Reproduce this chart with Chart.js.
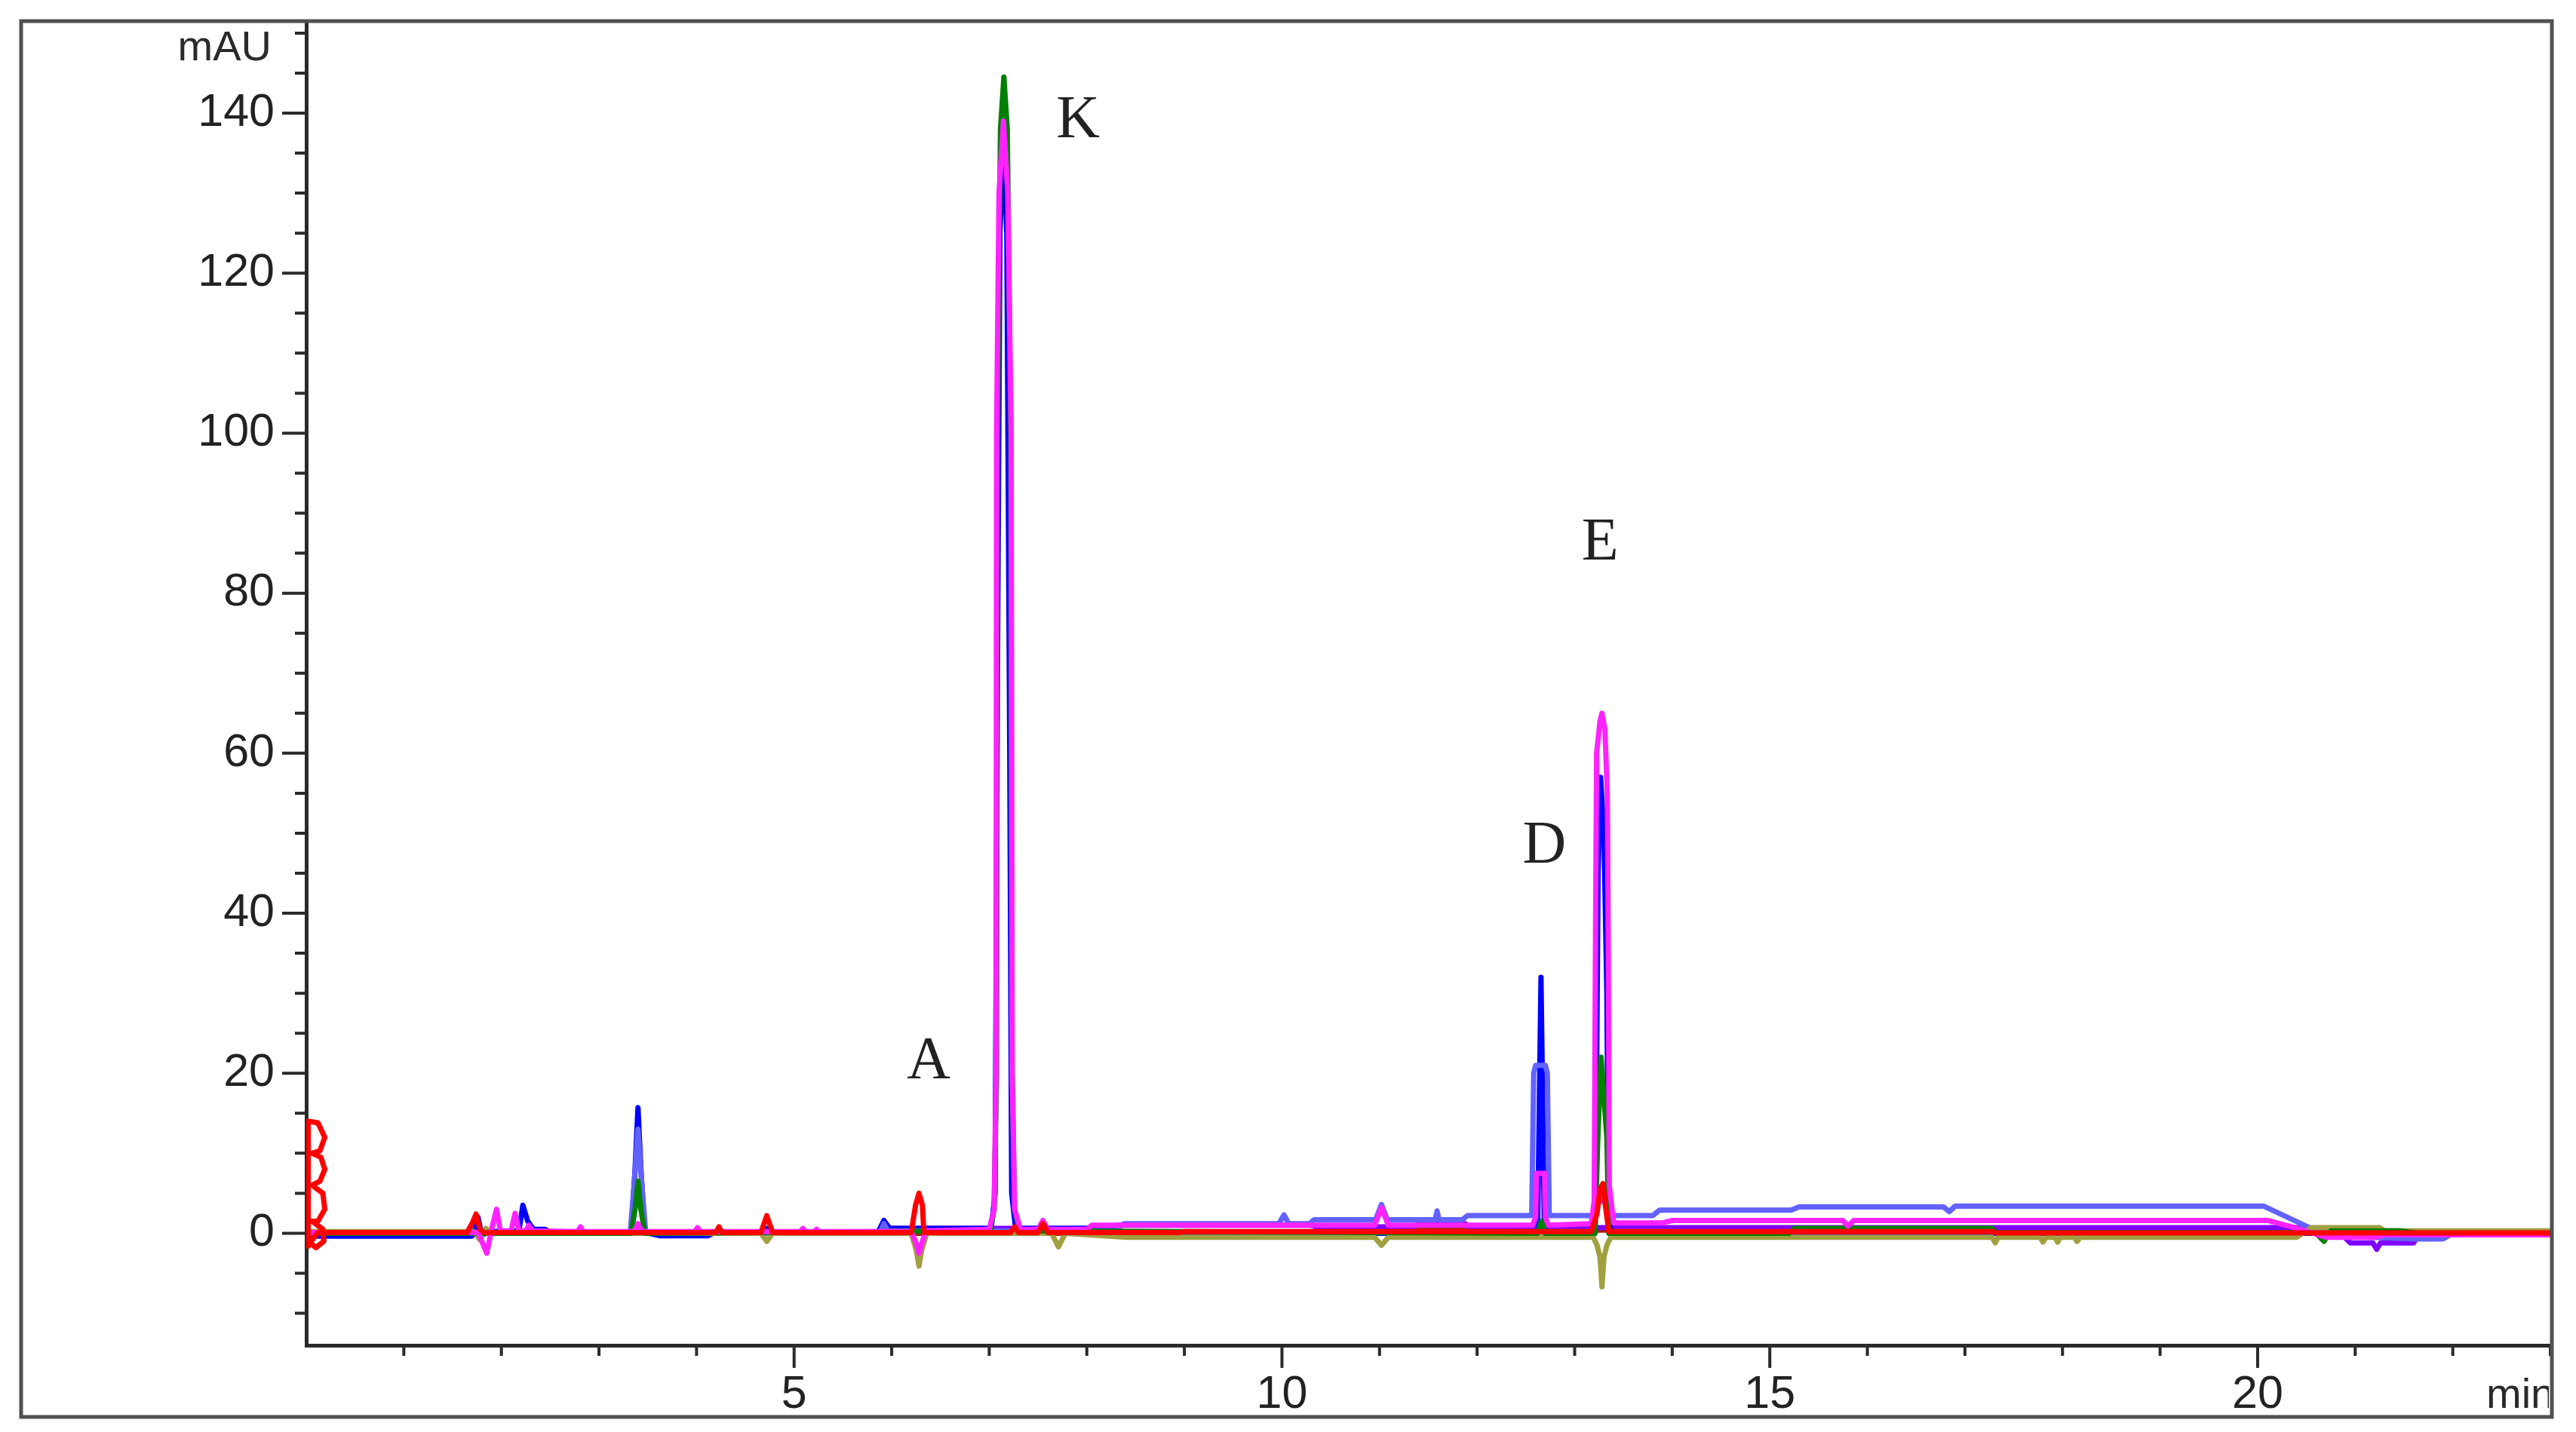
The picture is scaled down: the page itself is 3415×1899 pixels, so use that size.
<!DOCTYPE html>
<html>
<head>
<meta charset="utf-8">
<title>Chromatogram overlay</title>
<script src="https://cdn.jsdelivr.net/npm/chart.js@4.4.1/dist/chart.umd.min.js"></script>
<style>
    html, body { margin: 0; padding: 0; background: #ffffff; }
    #wrap { width: 3415px; height: 1899px; position: relative; }
</style>
</head>
<body>
<div id="wrap"><canvas id="chromChart"></canvas></div>
<script>
/* ========================================
   Chromatogram overlay - mAU vs min
   ======================================== */

// Axis ranges and tick labels
const timeMin = 0;
const timeMax = 23;
const absMin = -14;
const absMax = 151.5;
const timeLabels = [5, 10, 15, 20];
const absLabels = [0, 20, 40, 60, 80, 100, 120, 140];

// Peak names and where the letter sits [min, mAU]
const peakNames = ['A', 'K', 'D', 'E'];
const peakTimes = [6.38, 7.91, 12.69, 13.26];
const peakLevels = [21.3, 139.0, 48.3, 86.2];

// Traces, each point is [min, mAU]
const redTrace = [
    [0.02, -1.6], [0.02, 14], [0.12, 13.8], [0.19, 12], [0.14, 10.3], [0.06, 10], [0.15, 9.5], [0.19, 8],
    [0.14, 6.5], [0.06, 6], [0.17, 5], [0.19, 3], [0.12, 1.5], [0.06, 1.5], [0.17, 0.5], [0.18, -1],
    [0.10, -1.8], [0.04, -1.2], [0.12, 0.1], [0.30, 0.1],
    [1.65, 0.1], [1.71, 1.5], [1.74, 2.4], [1.78, 0.5], [1.82, 0.1],
    [4.20, 0.1], [4.23, 0.8], [4.26, 0.1],
    [4.66, 0.1], [4.70, 1.5], [4.72, 2.2], [4.74, 1.5], [4.78, 0.1],
    [6.20, 0.1], [6.245, 3.5], [6.28, 5.0], [6.315, 3.5], [6.33, 0.1],
    [7.22, 0.1], [7.26, 0.8], [7.30, 0.1],
    [7.50, 0.1], [7.55, 1.2], [7.60, 0.1],
    [8.95, 0.1], [9.00, 0.2],
    [13.17, 0.2], [13.23, 2.5], [13.26, 5.5], [13.29, 6.2], [13.32, 3], [13.35, 0.2],
    [17.28, 0.2], [17.32, 0.05], [23.0, 0.05]
];

const magentaTrace = [
    [0.00, 0.1], [1.76, 0.1], [1.80, -1.0], [1.85, -2.5], [1.90, 0.5], [1.95, 3.0], [1.99, 0.3],
    [2.10, 0.3], [2.14, 2.5], [2.18, 0.3],
    [2.25, 0.3], [2.28, 1.0], [2.32, 0.3],
    [2.78, 0.2], [2.81, 0.8], [2.84, 0.2],
    [3.36, 0.2], [3.40, 1.2], [3.44, 0.2],
    [3.98, 0.2], [4.01, 0.7], [4.04, 0.2],
    [5.06, 0.2], [5.09, 0.6], [5.12, 0.2], [5.20, 0.2], [5.23, 0.5], [5.26, 0.2],
    [6.20, 0.2], [6.25, -1.2], [6.28, -2.5], [6.31, -1.2], [6.35, 0.3],
    [7.00, 0.5], [7.05, 3], [7.07, 20], [7.075, 100], [7.10, 130], [7.145, 139], [7.19, 130], [7.225, 100],
    [7.235, 20], [7.26, 3], [7.32, 0.5],
    [7.50, 0.5], [7.55, 1.6], [7.60, 0.5],
    [8.00, 0.5], [8.05, 1.0],
    [10.95, 1.0], [11.02, 3.2], [11.09, 1.0],
    [12.57, 1.0], [12.60, 2], [12.61, 7.5], [12.69, 7.5], [12.70, 2], [12.73, 1.0],
    [13.17, 1.2], [13.20, 4], [13.215, 40], [13.225, 60], [13.26, 64], [13.28, 65], [13.31, 63],
    [13.335, 55], [13.345, 35], [13.355, 6], [13.40, 1.3],
    [13.90, 1.3], [14.00, 1.6],
    [15.75, 1.6], [15.80, 0.9], [15.86, 1.6],
    [20.10, 1.6], [20.35, 0.8], [20.70, -0.5], [21.20, -0.5], [21.30, -0.2], [23.0, -0.2]
];

const greenTrace = [
    [0.00, 0.0], [3.33, 0.0], [3.37, 3], [3.40, 6.5], [3.43, 3], [3.47, 0.0],
    [7.01, 0.3], [7.05, 3], [7.075, 20], [7.085, 100], [7.115, 138], [7.15, 144.5], [7.185, 138],
    [7.22, 100], [7.235, 20], [7.26, 3], [7.31, 0.3],
    [12.62, 0.0], [12.66, 1.5], [12.70, 0.0],
    [13.21, 0.0], [13.235, 11], [13.27, 22], [13.33, 12], [13.35, 0.0],
    [15.20, 0.0], [15.25, 0.6], [17.28, 0.6], [17.32, 0.1], [20.50, 0.1], [20.60, 0.0], [20.68, -1.0],
    [20.75, 0.3], [21.45, 0.3], [21.65, 0.0], [23.0, 0.0]
];

const oliveTrace = [
    [0.00, 0.2], [1.72, 0.2], [1.78, -0.8], [1.84, 0.6], [1.90, 0.0],
    [4.66, 0.0], [4.72, -1.0], [4.78, 0.0],
    [6.20, 0.0], [6.25, -2.0], [6.28, -4.1], [6.31, -2.0], [6.36, 0.0],
    [7.64, 0.0], [7.71, -1.7], [7.78, 0.0],
    [8.40, -0.5],
    [10.95, -0.5], [11.02, -1.5], [11.09, -0.5],
    [13.19, -0.5], [13.23, -1.5], [13.26, -3], [13.28, -6.7], [13.30, -3], [13.33, -1.5], [13.37, -0.5],
    [17.28, -0.5], [17.31, -1.2], [17.34, -0.5], [17.77, -0.5], [17.80, -1.1], [17.83, -0.5],
    [17.92, -0.5], [17.95, -1.1], [17.98, -0.5], [18.12, -0.5], [18.15, -1.0], [18.18, -0.5],
    [20.40, -0.5], [20.55, 0.7], [21.25, 0.7], [21.30, 0.3], [23.0, 0.3]
];

const lightBlueTrace = [
    [0.00, 0.0], [3.32, 0.0], [3.36, 6], [3.40, 13], [3.44, 6], [3.48, 0.0],
    [5.88, 0.0], [5.92, 1.2], [5.96, 0.3],
    [8.30, 0.3], [8.38, 1.2],
    [9.97, 1.2], [10.02, 2.3], [10.07, 1.2], [10.28, 1.2], [10.33, 1.7],
    [10.96, 1.7], [11.02, 3.6], [11.08, 1.7],
    [11.57, 1.7], [11.59, 2.8], [11.61, 1.7],
    [11.85, 1.7], [11.90, 2.2],
    [12.56, 2.2], [12.58, 20], [12.60, 21], [12.70, 21], [12.72, 20], [12.74, 2.2],
    [13.18, 2.2], [13.22, 4], [13.32, 4], [13.37, 2.2],
    [13.80, 2.2], [13.87, 2.9], [15.22, 2.9], [15.30, 3.3], [16.78, 3.3], [16.84, 2.7], [16.90, 3.4],
    [20.06, 3.4], [20.55, 0.6], [20.65, 0.2], [20.95, -0.4], [21.60, -0.7], [21.90, -0.7], [22.00, 0.0],
    [23.0, 0.0]
];

const blueTrace = [
    [0.00, -0.35], [1.70, -0.35], [1.73, 0.5], [1.76, 2.0], [1.80, -0.3], [1.86, 0.2],
    [2.18, 0.3], [2.22, 3.5], [2.27, 1.5], [2.33, 0.5], [2.45, 0.5], [2.50, 0.1],
    [3.33, 0.1], [3.37, 8], [3.40, 15.7], [3.43, 8], [3.47, 0.1], [3.62, -0.3], [4.12, -0.3], [4.18, 0.1],
    [4.68, 0.1], [4.72, 0.6], [4.76, 0.1],
    [5.86, 0.1], [5.92, 1.6], [5.98, 0.6],
    [7.02, 0.6], [7.06, 5], [7.08, 60], [7.11, 125], [7.145, 136], [7.18, 125], [7.21, 60], [7.23, 5],
    [7.27, 0.6], [8.02, 0.6], [8.06, 0.0],
    [12.62, 0.0], [12.655, 32], [12.69, 0.0],
    [13.20, 0.0], [13.225, 20], [13.24, 45], [13.265, 57], [13.30, 50], [13.33, 30], [13.345, 5],
    [13.37, 0.0], [23.0, 0.0]
];

const purpleTrace = [
    [0.00, 0.0], [5.86, 0.0], [5.92, 1.0], [5.98, 0.6], [8.00, 0.6], [8.35, 1.0], [10.30, 1.0],
    [10.35, 0.8], [11.35, 0.8], [11.40, 1.2], [11.88, 1.2], [11.92, 0.7], [20.50, 0.7], [20.85, 0.0],
    [20.95, -1.2], [21.18, -1.2], [21.22, -2.0], [21.26, -1.2], [21.60, -1.2], [21.65, 0.0], [23.0, 0.0]
];

const darkRedTrace = [
    [0.00, 0.0], [11.35, 0.0], [11.40, 0.4], [17.28, 0.4], [17.32, 0.0], [23.0, 0.0]
];

// first entry is drawn on top
const traces = [
    { data: redTrace, color: '#ff0000' },
    { data: magentaTrace, color: '#ff22ff' },
    { data: greenTrace, color: '#008000' },
    { data: oliveTrace, color: '#a0a040' },
    { data: lightBlueTrace, color: '#6262ff' },
    { data: blueTrace, color: '#0000ff' },
    { data: purpleTrace, color: '#8000ff' },
    { data: darkRedTrace, color: '#a82000' }
];

const axisColor = '#2a2a2a';
const frameColor = '#505050';
const sansFont = "'Liberation Sans', Arial, sans-serif";
const serifFont = "'Liberation Serif', 'Times New Roman', serif";

// Frame, tick marks, unit texts and peak letters
const chromDecor = {
    id: 'chromDecor',
    afterDraw(chart) {
        const ctx = chart.ctx;
        const area = chart.chartArea;
        const x = chart.scales.x;
        const y = chart.scales.y;

        ctx.save();
        ctx.strokeStyle = axisColor;
        ctx.lineWidth = 4;
        ctx.beginPath();
        x.ticks.forEach(t => {
            if (t.value <= timeMin) return;
            const px = x.getPixelForValue(t.value);
            const len = t.value % 5 === 0 ? 30 : 14;
            ctx.moveTo(px, area.bottom);
            ctx.lineTo(px, area.bottom + len);
        });
        y.ticks.forEach(t => {
            const py = y.getPixelForValue(t.value);
            const len = t.value % 20 === 0 ? 32 : 15;
            ctx.moveTo(area.left - len, py);
            ctx.lineTo(area.left, py);
        });
        ctx.stroke();

        // outer frame
        ctx.strokeStyle = frameColor;
        ctx.lineWidth = 5;
        ctx.strokeRect(28, 28, 3355, 1851);

        // unit texts
        ctx.fillStyle = axisColor;
        ctx.font = '56px ' + sansFont;
        ctx.textAlign = 'right';
        ctx.textBaseline = 'alphabetic';
        ctx.fillText('mAU', 360, 80);

        ctx.save();
        ctx.beginPath();
        ctx.rect(0, 0, area.right - 2, chart.height);
        ctx.clip();
        ctx.textAlign = 'left';
        ctx.fillText('min', 3296, 1867);
        ctx.restore();

        // peak letters
        ctx.fillStyle = '#222222';
        ctx.font = '80px ' + serifFont;
        ctx.textAlign = 'center';
        ctx.textBaseline = 'middle';
        peakNames.forEach((name, i) => {
            ctx.fillText(name, x.getPixelForValue(peakTimes[i]), y.getPixelForValue(peakLevels[i]));
        });
        ctx.restore();
    }
};

function loadChromChart() {
    const ctx = document.getElementById('chromChart');

    new Chart(ctx, {
        type: 'line',
        data: {
            datasets: traces.map(tr => ({
                data: tr.data.map(p => ({ x: p[0], y: p[1] })),
                borderColor: tr.color,
                backgroundColor: tr.color,
                borderWidth: 7,
                borderJoinStyle: 'round',
                borderCapStyle: 'round',
                pointRadius: 0,
                tension: 0,
                fill: false
            }))
        },
        options: {
            responsive: true,
            maintainAspectRatio: false,
            animation: false,
            devicePixelRatio: 1,
            events: [],
            layout: { padding: { top: 28, right: 34, left: 0, bottom: 0 } },
            plugins: {
                legend: { display: false },
                tooltip: { enabled: false }
            },
            scales: {
                x: {
                    type: 'linear',
                    min: timeMin,
                    max: timeMax,
                    afterFit: function(scale) {
                        scale.height = 115;
                        scale.paddingLeft = 0;
                        scale.paddingRight = 0;
                    },
                    border: { display: true, color: axisColor, width: 5 },
                    grid: {
                        display: true,
                        drawOnChartArea: false,
                        drawTicks: true,
                        tickLength: 30,
                        tickColor: 'rgba(0,0,0,0)'
                    },
                    ticks: {
                        stepSize: 1,
                        autoSkip: false,
                        maxRotation: 0,
                        padding: 0,
                        color: '#222222',
                        font: { family: sansFont, size: 61 },
                        callback: function(value) {
                            return timeLabels.includes(value) ? String(value) : '';
                        }
                    }
                },
                y: {
                    type: 'linear',
                    min: absMin,
                    max: absMax,
                    afterFit: function(scale) {
                        scale.width = 406;
                        scale.paddingTop = 0;
                        scale.paddingBottom = 0;
                    },
                    border: { display: true, color: axisColor, width: 5 },
                    grid: {
                        display: true,
                        drawOnChartArea: false,
                        drawTicks: true,
                        tickLength: 32,
                        tickColor: 'rgba(0,0,0,0)'
                    },
                    ticks: {
                        stepSize: 5,
                        includeBounds: false,
                        autoSkip: false,
                        padding: 10,
                        color: '#222222',
                        font: { family: sansFont, size: 61 },
                        callback: function(value) {
                            return absLabels.includes(value) ? String(value) : '';
                        }
                    }
                }
            }
        },
        plugins: [chromDecor]
    });
}

loadChromChart();
</script>
</body>
</html>
